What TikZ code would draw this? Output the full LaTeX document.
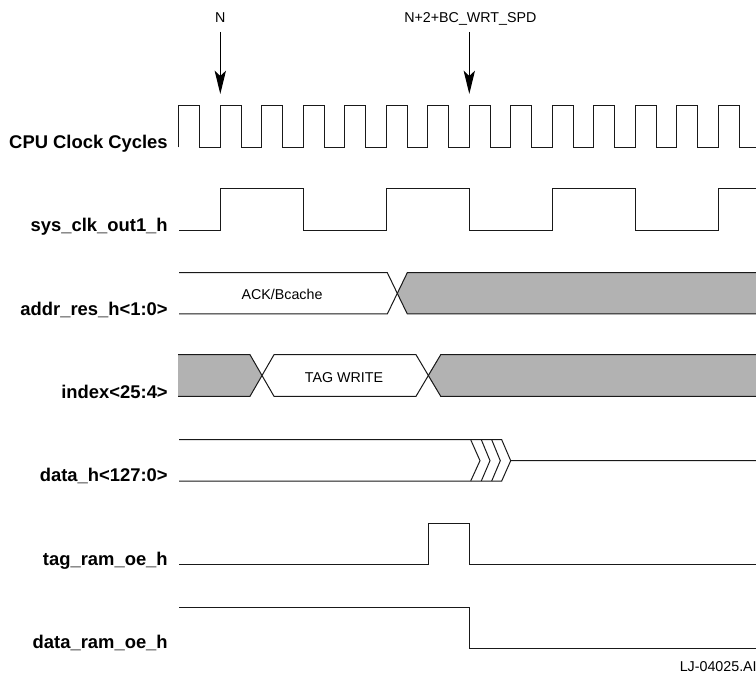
\documentclass[tikz,border=0pt]{standalone}
\usepackage{fontspec}
\setmainfont{Liberation Sans}
\usetikzlibrary{arrows.meta}
\definecolor{busgray}{HTML}{B2B2B2}
\tikzset{
  wave/.style={draw=black!90,line width=0.75pt,line join=miter},
  busfill/.style={fill=busgray,draw=none},
  siglabel/.style={anchor=base east,font=\bfseries\fontsize{13.8}{16}\selectfont,inner sep=0pt},
  smalltext/.style={anchor=base,font=\fontsize{10.7}{13}\selectfont,inner sep=0pt},
  markarrow/.style={draw=black,line width=0.85pt,-{Stealth[length=17.5pt,width=8.5pt,inset=4pt]}}
}
\begin{document}
\begin{tikzpicture}[x=0.75pt,y=-0.75pt]
\path[use as bounding box] (0,0) rectangle (756,673);
\clip (0,0) rectangle (756,673);
% signal labels
\node[siglabel] (l1) at (168,148.4) {CPU Clock Cycles};
\node[siglabel] (l2) at (168,231.7) {sys\_clk\_out1\_h};
\node[siglabel] (l3) at (168,315.2) {addr\_res\_h<1:0>};
\node[siglabel] (l4) at (168,398.2) {index<25:4>};
\node[siglabel] (l5) at (168,481.5) {data\_h<127:0>};
\node[siglabel] (l6) at (168,565.5) {tag\_ram\_oe\_h};
\node[siglabel] (l7) at (168,648.5) {data\_ram\_oe\_h};
% markers
\node[smalltext] (n) at (220.3,22.8) {N};
\node[smalltext] (n2) at (470.4,22.8) {N+2+BC\_WRT\_SPD};
\coordinate (a1s) at (220.3,32);
\coordinate (a1e) at (220.3,94);
\coordinate (a2s) at (469.3,32);
\coordinate (a2e) at (469.3,94);
\draw[markarrow] (a1s) -- (a1e);
\draw[markarrow] (a2s) -- (a2e);
% CPU clock
\draw[wave] (178.5,147.5) -- (178.5,105.7)
  \foreach \k in {0,...,13}{ -- ({178.5+41.5*\k+21},105.7) -- ({178.5+41.5*\k+21},147.5) -- ({178.5+41.5*(\k+1)},147.5) -- ({178.5+41.5*(\k+1)},105.7)}
  -- (760,105.7);
% sys_clk
\draw[wave] (179,230.7) -- (220.5,230.7) -- (220.5,188.7) -- (303.5,188.7) -- (303.5,230.7)
  -- (386.5,230.7) -- (386.5,188.7) -- (469.5,188.7) -- (469.5,230.7)
  -- (552.5,230.7) -- (552.5,188.7) -- (635.5,188.7) -- (635.5,230.7)
  -- (718.5,230.7) -- (718.5,188.7) -- (760,188.7);
% addr_res
\fill[busfill] (760,272.7) -- (407.3,272.7) -- (397.3,293.4) -- (407.3,314) -- (760,314) -- cycle;
\draw[wave] (179,272.7) -- (387.3,272.7) -- (407.3,314) -- (760,314);
\draw[wave] (179,314) -- (387.3,314) -- (407.3,272.7) -- (760,272.7);
\node[smalltext] (ack) at (282,300) {ACK/Bcache};
% index
\fill[busfill] (178,354.7) -- (250,354.7) -- (261.7,375.5) -- (250,396.3) -- (178,396.3) -- cycle;
\fill[busfill] (760,354.7) -- (440.7,354.7) -- (427.7,375.5) -- (440.7,396.3) -- (760,396.3) -- cycle;
\draw[wave] (178,354.7) -- (250,354.7) -- (274,396.3) -- (416,396.3) -- (440.7,354.7) -- (760,354.7);
\draw[wave] (178,396.3) -- (250,396.3) -- (274,354.7) -- (416,354.7) -- (440.7,396.3) -- (760,396.3);
\node[smalltext] (tag) at (344,382.3) {TAG WRITE};
% data
\draw[wave] (179,439.7) -- (501.7,439.7) -- (510.7,460.7) -- (760,460.7);
\draw[wave] (179,481) -- (501.7,481) -- (510.7,460.7);
\draw[wave] (470.7,439.7) -- (480,460.7) -- (470.7,481);
\draw[wave] (481.3,439.7) -- (490,460.7) -- (481.3,481);
\draw[wave] (491.7,439.7) -- (500.3,460.7) -- (491.7,481);
% tag_ram_oe
\draw[wave] (179,564.5) -- (428.5,564.5) -- (428.5,523) -- (469.5,523) -- (469.5,564.5) -- (760,564.5);
% data_ram_oe
\draw[wave] (179,607) -- (469.5,607) -- (469.5,648) -- (760,648);
\node[smalltext,anchor=base west] (lj) at (679.5,671.7) {LJ-04025.AI4};
\end{tikzpicture}
\end{document}
